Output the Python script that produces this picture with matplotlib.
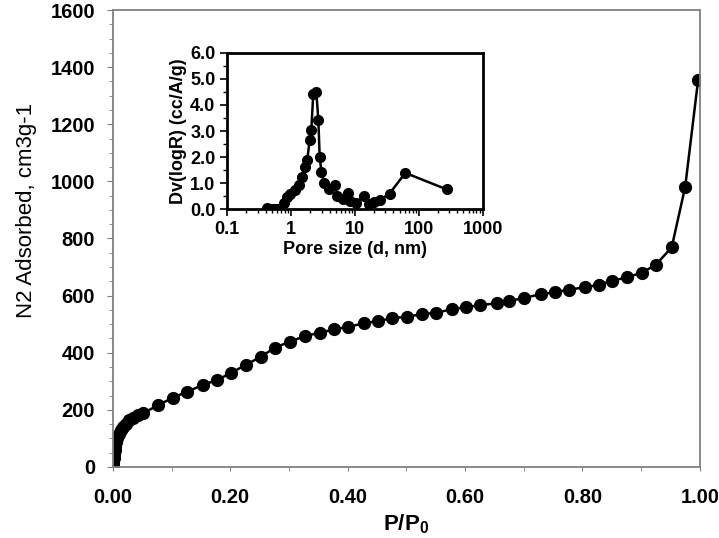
import matplotlib
matplotlib.use("Agg")
import matplotlib.pyplot as plt
from matplotlib.ticker import MultipleLocator, LogLocator, FixedLocator, NullFormatter

plt.rcParams['font.family'] = ['Liberation Sans', 'DejaVu Sans']
plt.rcParams['mathtext.fontset'] = 'custom'
plt.rcParams['mathtext.bf'] = 'Liberation Sans:bold'
plt.rcParams['mathtext.rm'] = 'Liberation Sans:bold'

# N2 isotherm (P/P0 vs adsorbed volume)
p_rel = [0.0005, 0.001, 0.0015, 0.002, 0.003, 0.004, 0.005, 0.007, 0.01, 0.013,
         0.017, 0.022, 0.028, 0.035, 0.043, 0.052, 0.077, 0.103, 0.127, 0.153,
         0.178, 0.202, 0.226, 0.252, 0.276, 0.302, 0.328, 0.353, 0.377, 0.401,
         0.428, 0.452, 0.476, 0.501, 0.526, 0.551, 0.577, 0.601, 0.626, 0.654,
         0.675, 0.701, 0.729, 0.753, 0.777, 0.804, 0.828, 0.851, 0.876, 0.901,
         0.925, 0.952, 0.975, 0.997]
v_ads = [5, 15, 30, 45, 60, 75, 88, 100, 115, 128,
         140, 152, 163, 172, 181, 188, 217, 243, 264, 287,
         305, 330, 357, 386, 418, 439, 459, 470, 482, 491,
         503, 511, 521, 526, 535, 540, 552, 559, 567, 573,
         581, 592, 605, 612, 621, 629, 638, 652, 664, 680,
         708, 769, 981, 1355]

# pore size distribution (inset)
pore_d = [0.42, 0.46, 0.50, 0.54, 0.58, 0.62, 0.77, 0.86, 0.97, 1.17,
          1.32, 1.49, 1.62, 1.79, 1.95, 2.07, 2.22, 2.48, 2.67, 2.80,
          2.98, 3.28, 3.94, 4.89, 5.3, 6.4, 7.7, 8.4, 10.4, 14.0,
          16.8, 20.2, 25.1, 34.8, 61.5, 273]
dv_logr = [0.04, 0.02, 0.01, 0.02, 0.02, 0.03, 0.23, 0.49, 0.61, 0.74,
           0.93, 1.25, 1.63, 1.89, 2.66, 3.04, 4.41, 4.50, 3.42, 2.02,
           1.44, 1.00, 0.80, 0.93, 0.51, 0.42, 0.64, 0.33, 0.26, 0.52,
           0.20, 0.29, 0.38, 0.61, 1.40, 0.77]

fig = plt.figure(figsize=(7.19, 5.38), dpi=100)
ax = fig.add_axes([0.157, 0.132, 0.8164, 0.8494])
ax.plot(p_rel, v_ads, '-o', color='black', lw=1.8, ms=8.5)
ax.set_xlim(0, 1.0)
ax.set_ylim(0, 1600)
ax.xaxis.set_major_locator(MultipleLocator(0.2))
ax.xaxis.set_minor_locator(MultipleLocator(0.1))
ax.yaxis.set_major_locator(MultipleLocator(200))
ax.yaxis.set_minor_locator(MultipleLocator(50))
ax.set_xticklabels(['%.2f' % t for t in ax.get_xticks()])
for s in ax.spines.values():
    s.set_color('#808080')
    s.set_linewidth(1.3)
ax.tick_params(which='both', direction='out', color='#808080', labelsize=14.5)
ax.tick_params(axis='y', which='major', length=4.3, pad=8.5)
ax.tick_params(axis='y', which='minor', length=3)
ax.tick_params(axis='x', which='both', length=3, pad=12)
for lab in ax.get_xticklabels() + ax.get_yticklabels():
    lab.set_fontweight('bold')
ax.set_xlabel(r'P/P$_\mathbf{0}$', fontsize=16, fontweight='bold')
ax.xaxis.set_label_coords(0.499, -0.10)
ax.set_ylabel('N2 Adsorbed, cm3g-1', fontsize=16)
ax.yaxis.set_label_coords(-0.129, 0.562)

ins = fig.add_axes([0.3161, 0.6106, 0.3552, 0.2914])
ins.plot(pore_d, dv_logr, '-o', color='black', lw=1.8, ms=7)
ins.set_xscale('log')
ins.set_xlim(0.1, 1000)
ins.set_ylim(0, 6)
ins.xaxis.set_major_locator(FixedLocator([0.1, 1, 10, 100, 1000]))
ins.xaxis.set_minor_locator(LogLocator(base=10, subs=range(2, 10), numticks=20))
ins.xaxis.set_minor_formatter(NullFormatter())
ins.set_xticklabels(['0.1', '1', '10', '100', '1000'])
ins.yaxis.set_major_locator(MultipleLocator(1))
ins.yaxis.set_minor_locator(MultipleLocator(0.5))
ins.set_yticklabels(['%.1f' % t for t in ins.get_yticks()])
for s in ins.spines.values():
    s.set_color('black')
    s.set_linewidth(2)
ins.tick_params(which='both', direction='out', labelsize=13)
ins.tick_params(which='major', length=5, width=1.2)
ins.tick_params(which='minor', length=3, width=1)
for lab in ins.get_xticklabels() + ins.get_yticklabels():
    lab.set_fontweight('bold')
ins.set_xlabel('Pore size (d, nm)', fontsize=13, fontweight='bold', labelpad=2)
ins.set_ylabel('Dv(logR) (cc/A/g)', fontsize=13, fontweight='bold', labelpad=2)

fig.savefig('out.png', dpi=100)
